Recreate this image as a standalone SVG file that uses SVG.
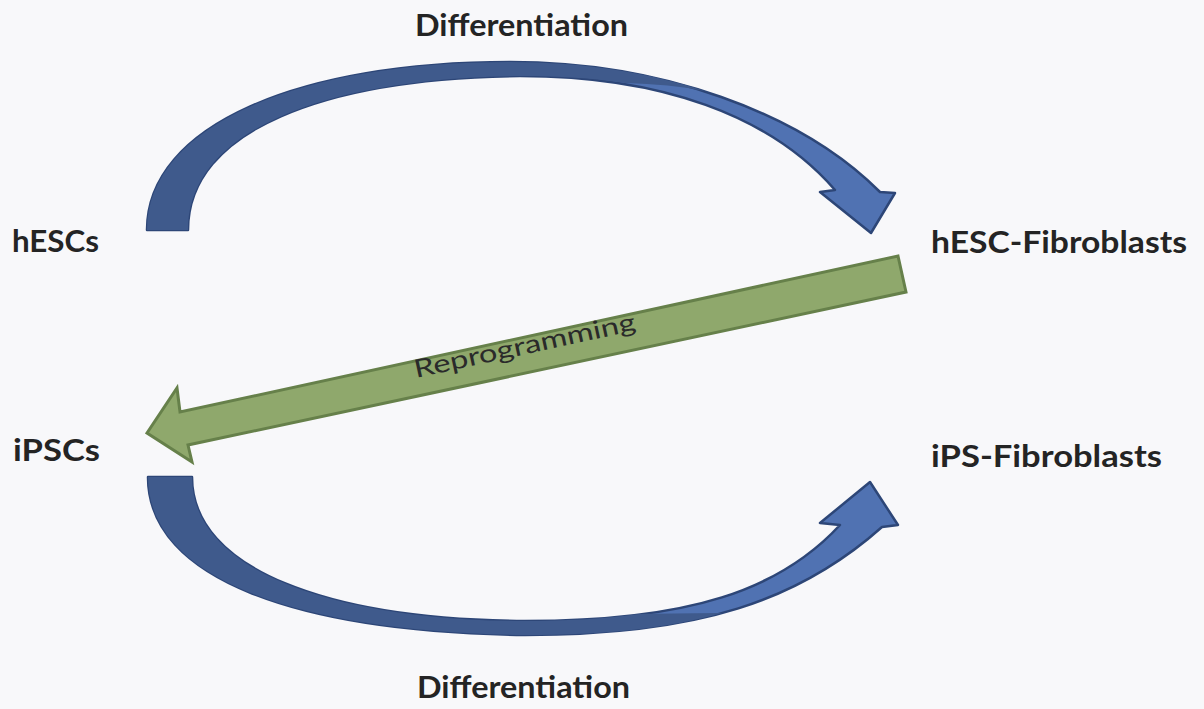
<svg xmlns="http://www.w3.org/2000/svg" width="1204" height="709" viewBox="0 0 1204 709">
  <style>
    .lbl { font-family: Lato, "Open Sans", "Liberation Sans", sans-serif; font-weight: bold; font-size: 30px; fill: #242424; }
    .arc-light { fill: #5072b2; stroke: #2d4677; stroke-width: 2.5; stroke-linejoin: round; }
    .arc-dark { fill: #3f5a8c; stroke: none; }
    .green { fill: #8fa86c; stroke: #66804a; stroke-width: 3; stroke-linejoin: miter; }
    .green-lbl { font-family: Lato, "Open Sans", "Liberation Sans", sans-serif; font-size: 25px; fill: #2a2a2a; }
  </style>
  <rect width="1204" height="709" fill="#f8f8fa"/>

  <g id="connectors">
    <g id="top-differentiation">
      <path class="arc-light" d="M147,230 C147,125 300,62 510,62 C660,62 800,112 880,192 L895,193 L871,233 L820,192 L835,190 C770,115 660,76 520,76 C325,78 188,130 188,230 Z"/>
      <path class="arc-dark" d="M147,230 C147,125 300,62 510,62 C585,62 650,73 705,91 Q670,84 625,83 C590,78 560,76 520,76 C325,78 188,130 188,230 Z"/>
      <text class="lbl" x="415" y="36" textLength="213" lengthAdjust="spacingAndGlyphs">Differentiation</text>
    </g>
    <g id="bottom-differentiation">
      <path class="arc-light" d="M148,477 C148,580 300,632 525,635 C700,635 800,600 882,527 L898,525 L870,482 L820,523 L840,525 C780,590 690,621 525,621 C330,620 192,570 192,477 Z"/>
      <path class="arc-dark" d="M148,477 C148,580 300,632 525,635 C605,635 670,628 722,613 Q690,613 640,614 C600,619 565,621 525,621 C330,620 192,570 192,477 Z"/>
      <text class="lbl" x="417" y="698" textLength="213" lengthAdjust="spacingAndGlyphs">Differentiation</text>
    </g>
    <g id="reprogramming">
      <path class="green" d="M147,433 L177,388 L180,412 L898,256 L906,292 L188,445 L192,462 Z"/>
      <text class="green-lbl" transform="translate(416,378) rotate(-12.26)" textLength="226" lengthAdjust="spacingAndGlyphs">Reprogramming</text>
    </g>
  </g>

  <g id="node-hESCs">
    <text class="lbl" x="12" y="252" textLength="87" lengthAdjust="spacingAndGlyphs">hESCs</text>
  </g>
  <g id="node-hESC-Fibroblasts">
    <text class="lbl" x="931" y="253" textLength="256" lengthAdjust="spacingAndGlyphs">hESC-Fibroblasts</text>
  </g>
  <g id="node-iPSCs">
    <text class="lbl" x="13" y="461" textLength="87" lengthAdjust="spacingAndGlyphs">iPSCs</text>
  </g>
  <g id="node-iPS-Fibroblasts">
    <text class="lbl" x="931" y="467" textLength="231" lengthAdjust="spacingAndGlyphs">iPS-Fibroblasts</text>
  </g>
</svg>
